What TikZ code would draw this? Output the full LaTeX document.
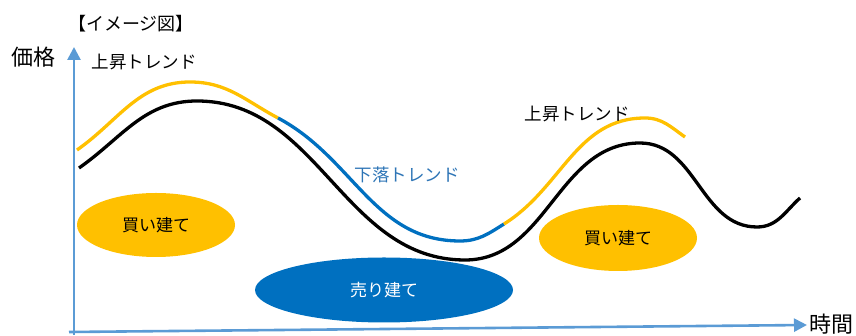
\documentclass[tikz,border=0pt]{standalone}
\usepackage{fontspec}
\newfontfamily\jpfont{Noto Sans CJK JP}
\usetikzlibrary{arrows.meta,shapes.geometric}
\definecolor{axisblue}{HTML}{5B9BD5}
\definecolor{trendyellow}{HTML}{FFC000}
\definecolor{trendblue}{HTML}{0070C0}
\definecolor{labelblue}{HTML}{2E75B6}
\tikzset{
	zone/.style={
			ellipse, inner sep=0pt, font=\jpfont\fontsize{17}{17}\selectfont
		}
}

\begin{document}
\begin{tikzpicture}[
x=1pt, y=1pt,
     axis/.style = {draw=axisblue, line width=2.6pt,
                    -{Triangle[length=13pt,width=13pt]}},
    trend/.style = {line width=3.3pt},
    label/.style = {inner sep=0pt, font=\jpfont\fontsize{17.5}{17.5}\selectfont},
      big/.style = {inner sep=0pt, font=\jpfont\fontsize{22}{22}\selectfont}
                    ]
\useasboundingbox (0,0) rectangle (856,336);

% axes
\coordinate (x0) at (69,4);
\coordinate (x1) at (807,11);
\coordinate (y0) at (74,1);
\coordinate (y1) at (74,289);
\draw[axis] (x0) -- (x1);
\draw[axis] (y0) -- (y1);

% zones
\node (buyL) [zone, fill=trendyellow, minimum width=158pt, minimum height=64pt]
      at (156,111) {買い建て};
\node (buyR) [zone, fill=trendyellow, minimum width=158pt, minimum height=66pt]
      at (618,98) {買い建て};
\node (sell) [zone, fill=trendblue, text=white, minimum width=258pt, minimum height=65pt]
      at (384,46) {売り建て};

% price
\draw[trend, black] (79,168) to[out=35,in=180] (197,235)
        to[out=0,in=180] (465,76)
        to[out=0,in=180] (640,193)
        to[out=0,in=180] (757,109)
        to[out=0,in=222] (800,138);

% trend
\coordinate (t1) at (278,218);
\coordinate (t2) at (504,112);
\draw[trend, trendyellow] (77,186) to[out=35,in=180] (190,254)
        to[out=0,in=152] (t1);
\draw[trend, trendblue] (t1) to[out=-28,in=180] (460,95)
        to[out=0,in=212] (t2);
\draw[trend, trendyellow] (t2) to[out=32,in=180] (645,218)
        to[out=0,in=145] (685,199);

% labels
\node (title) [label, font=\jpfont\fontsize{18}{18}\selectfont] at (131,312) {【イメージ図】};
\node (price) [big] at (33,279) {価格};
\node (time) [big, anchor=west] at (809,12) {時間};
\node (up1) [label] at (144,274) {上昇トレンド};
\node (up2) [label] at (577,222) {上昇トレンド};
\node (down) [label, text=labelblue] at (407,161) {下落トレンド};
\end{tikzpicture}
\end{document}
